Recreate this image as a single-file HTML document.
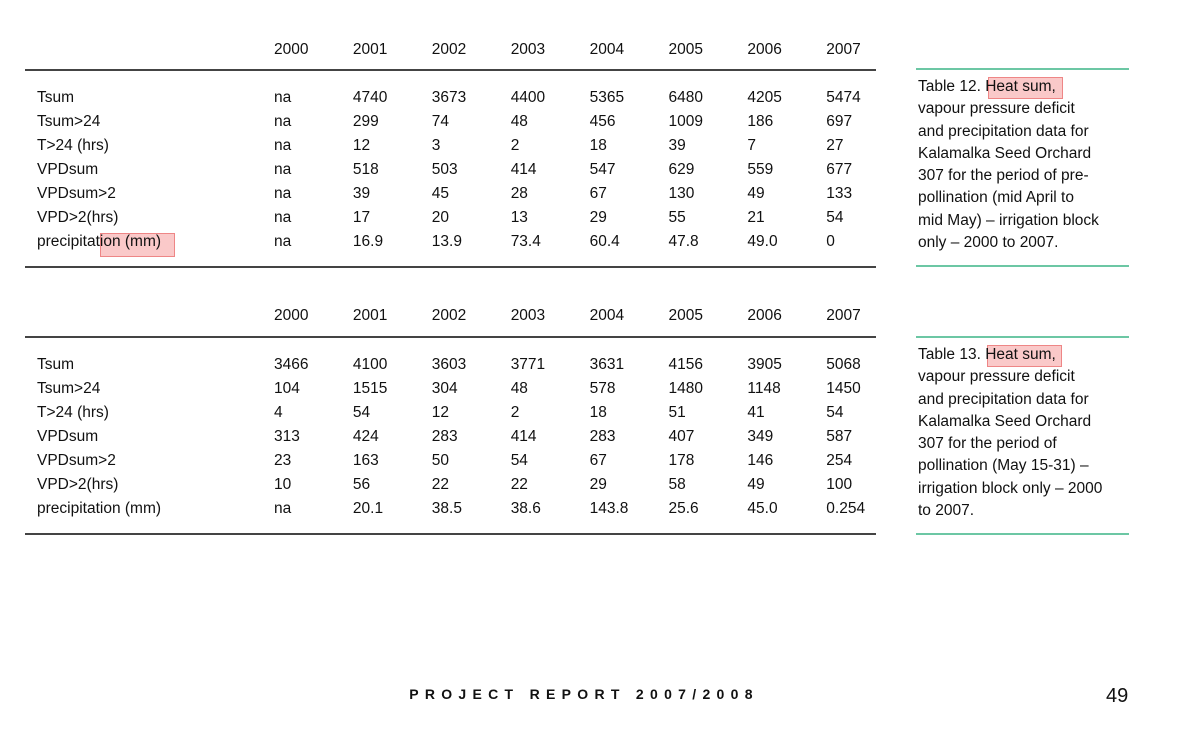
<!DOCTYPE html>
<html><head><meta charset="utf-8"><style>
body{margin:0;width:1181px;height:733px;background:#fff;position:relative;overflow:hidden;font-family:"Liberation Sans",sans-serif;color:#111}
.t{position:absolute;font-size:15.5px;line-height:18px;white-space:nowrap;transform:translateY(-7px)}
.rule{position:absolute;left:25px;width:851px;height:1.5px;background:#444}
.grule{position:absolute;left:916px;width:213px;height:2px;background:#6cc7a4}
.hl{position:absolute;background:rgba(240,100,100,0.35);border:1px solid rgba(230,90,90,0.6)}
.cap{position:absolute;left:918px;font-size:15.5px;line-height:22.3px;white-space:nowrap}
</style></head><body>
<div class="rule" style="top:69px"></div>
<div class="rule" style="top:266px"></div>
<div class="rule" style="top:336px"></div>
<div class="rule" style="top:533px"></div>
<div class="hl" style="left:100px;top:233px;width:73px;height:22px"></div>
<div id="tables"></div>

<div class="grule" style="top:68px"></div>
<div class="grule" style="top:265px"></div>
<div class="hl" style="left:988px;top:77px;width:73px;height:20px"></div>
<div class="cap" style="top:76px">Table 12. Heat sum,<br>vapour pressure deficit<br>and precipitation data for<br>Kalamalka Seed Orchard<br>307 for the period of pre-<br>pollination (mid April to<br>mid May) – irrigation block<br>only – 2000 to 2007.</div>

<div class="grule" style="top:336px"></div>
<div class="grule" style="top:533px"></div>
<div class="hl" style="left:987px;top:345px;width:73px;height:20px"></div>
<div class="cap" style="top:344px">Table 13. Heat sum,<br>vapour pressure deficit<br>and precipitation data for<br>Kalamalka Seed Orchard<br>307 for the period of<br>pollination (May 15-31) –<br>irrigation block only – 2000<br>to 2007.</div>

<div style="position:absolute;left:330px;width:508px;top:686px;text-align:center;font-size:14px;font-weight:bold;letter-spacing:6.3px">PROJECT REPORT 2007/2008</div>
<div style="position:absolute;left:1106px;top:685px;font-size:20px">49</div>

<script>
const years=["2000","2001","2002","2003","2004","2005","2006","2007"];
const rowLabels=["Tsum","Tsum>24","T>24 (hrs)","VPDsum","VPDsum>2","VPD>2(hrs)","precipitation (mm)"];
const table12=[
["na","4740","3673","4400","5365","6480","4205","5474"],
["na","299","74","48","456","1009","186","697"],
["na","12","3","2","18","39","7","27"],
["na","518","503","414","547","629","559","677"],
["na","39","45","28","67","130","49","133"],
["na","17","20","13","29","55","21","54"],
["na","16.9","13.9","73.4","60.4","47.8","49.0","0"]];
const table13=[
["3466","4100","3603","3771","3631","4156","3905","5068"],
["104","1515","304","48","578","1480","1148","1450"],
["4","54","12","2","18","51","41","54"],
["313","424","283","414","283","407","349","587"],
["23","163","50","54","67","178","146","254"],
["10","56","22","22","29","58","49","100"],
["na","20.1","38.5","38.6","143.8","25.6","45.0","0.254"]];
const host=document.getElementById('tables');
const colX=i=>274+i*78.9;
function txt(s,x,y){const d=document.createElement('div');d.className='t';d.textContent=s;d.style.left=x+'px';d.style.top=y+'px';host.appendChild(d);return d;}
function draw(data,headY,rowY,id){
 years.forEach((y,i)=>{const e=txt(y,colX(i),headY);
 
 });
 rowLabels.forEach((l,r)=>{const e=txt(l,37,rowY+r*24);
 
 
 data[r].forEach((v,c)=>{const f=txt(v,colX(c),rowY+r*24);
 
 });});
}
draw(table12,48,96,'table12');
draw(table13,314,363,'table13');
</script>
</body></html>
